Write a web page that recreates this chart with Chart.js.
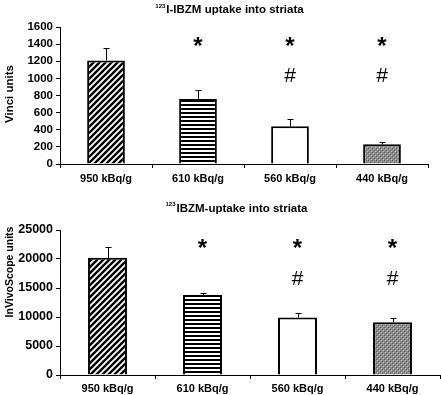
<!DOCTYPE html>
<html>
<head>
<meta charset="utf-8">
<script src="https://cdn.jsdelivr.net/npm/chart.js@4.4.1/dist/chart.umd.min.js"></script>
<style>
  body { margin: 0; background: #fff; }
  canvas { position: absolute; left: 0; }
  #topChart { top: 0; }
  #bottomChart { top: 195px; }
</style>
</head>
<body>
<canvas id="topChart" width="441" height="195"></canvas>
<canvas id="bottomChart" width="441" height="200"></canvas>
<script>
const doses = ["950 kBq/g", "610 kBq/g", "560 kBq/g", "440 kBq/g"];

// 123I-IBZM uptake, Vinci units (mean + error)
const vinciMean = [1210, 760, 440, 230];
const vinciErr = [140, 100, 80, 30];
const vinciTicks = [0, 200, 400, 600, 800, 1000, 1200, 1400, 1600];

// 123IBZM uptake, InVivoScope units (mean + error)
const scopeMean = [20200, 13800, 9900, 9100];
const scopeErr = [1800, 400, 800, 800];
const scopeTicks = [0, 5000, 10000, 15000, 20000, 25000];

// significance marks per bar
const starMark = [false, true, true, true];
const hashMark = [false, false, true, true];

const FONT = "'Liberation Sans', Arial, sans-serif";

function makePattern(kind) {
    const c = document.createElement("canvas");
    const g = c.getContext("2d");
    if (kind === "diag") {
        const s = 6;
        c.width = s; c.height = s;
        g.fillStyle = "#fff"; g.fillRect(0, 0, s, s);
        g.strokeStyle = "#000"; g.lineWidth = 2.4;
        g.beginPath();
        g.moveTo(0, s); g.lineTo(s, 0);
        g.moveTo(-1, 1); g.lineTo(1, -1);
        g.moveTo(s - 1, s + 1); g.lineTo(s + 1, s - 1);
        g.stroke();
    } else if (kind === "horiz") {
        c.width = 4; c.height = 4;
        g.fillStyle = "#fff"; g.fillRect(0, 0, 4, 4);
        g.fillStyle = "#000"; g.fillRect(0, 0, 4, 2);
    } else if (kind === "gray") {
        c.width = 4; c.height = 4;
        g.fillStyle = "#8a8a8a"; g.fillRect(0, 0, 4, 4);
        g.fillStyle = "#5e5e5e"; g.fillRect(0, 0, 1, 1); g.fillRect(2, 2, 1, 1);
        g.fillStyle = "#c4c4c4"; g.fillRect(1, 1, 1, 1); g.fillRect(3, 3, 1, 1);
    } else {
        c.width = 2; c.height = 2;
        g.fillStyle = "#fff"; g.fillRect(0, 0, 2, 2);
    }
    return g.createPattern(c, "repeat");
}

// error bars, significance marks, titles
const extras = {
    id: "extras",
    afterDatasetsDraw(chart, args, o) {
        const ctx = chart.ctx;
        const y = chart.scales.y;
        const meta = chart.getDatasetMeta(0);
        ctx.save();
        ctx.strokeStyle = "#000";
        ctx.lineWidth = 1;
        o.mean.forEach((m, i) => {
            const bx = Math.round(meta.data[i].x) + 0.5;
            const y0 = y.getPixelForValue(m);
            const y1 = Math.round(y.getPixelForValue(m + o.err[i])) + 0.5;
            ctx.beginPath();
            ctx.moveTo(bx, y0); ctx.lineTo(bx, y1);
            ctx.moveTo(bx - 3, y1); ctx.lineTo(bx + 3, y1);
            ctx.stroke();
        });
        ctx.fillStyle = "#000";
        ctx.textAlign = "center";
        ctx.textBaseline = "middle";
        starMark.forEach((s, i) => {
            if (!s) return;
            ctx.font = "bold 24px " + FONT;
            ctx.fillText("*", meta.data[i].x, y.getPixelForValue(o.starAt) + 5);
        });
        hashMark.forEach((h, i) => {
            if (!h) return;
            ctx.font = "21px " + FONT;
            ctx.fillText("#", meta.data[i].x, y.getPixelForValue(o.hashAt));
        });
        ctx.restore();
    },
    afterDraw(chart, args, o) {
        const ctx = chart.ctx;
        ctx.save();
        ctx.fillStyle = "#000";
        ctx.textBaseline = "middle";
        // title with superscript mass number
        ctx.font = "bold 11.5px " + FONT;
        const wMain = ctx.measureText(o.title).width;
        ctx.font = "bold 6px " + FONT;
        const wSup = ctx.measureText("123").width;
        let x = o.titleX - (wMain + wSup) / 2;
        ctx.textAlign = "left";
        ctx.fillText("123", x, o.titleY - 4);
        ctx.font = "bold 11.5px " + FONT;
        ctx.fillText(o.title, x + wSup + 1, o.titleY);
        // rotated y axis title
        ctx.translate(10, o.yTitleY);
        ctx.rotate(-Math.PI / 2);
        ctx.textAlign = "center";
        ctx.font = o.yTitleFont;
        ctx.fillText(o.yTitle, 0, 0);
        ctx.restore();
    }
};

function buildChart(id, mean, ticks, opts) {
    const ctx = document.getElementById(id).getContext("2d");
    return new Chart(ctx, {
        type: "bar",
        data: {
            labels: doses,
            datasets: [{
                data: mean,
                backgroundColor: [makePattern("diag"), makePattern("horiz"), makePattern("white"), makePattern("gray")],
                borderColor: "#000",
                borderWidth: 2,
                borderSkipped: "bottom",
                categoryPercentage: 1,
                barPercentage: 0.41
            }]
        },
        options: {
            responsive: false,
            animation: false,
            devicePixelRatio: 1,
            layout: { padding: { top: opts.top, right: opts.right, left: 0, bottom: 0 } },
            plugins: {
                legend: { display: false },
                tooltip: { enabled: false },
                extras: opts.extras
            },
            scales: {
                x: {
                    grid: { display: true, drawOnChartArea: false, tickLength: 4, color: "#000", offset: true },
                    border: { display: true, color: "#000", width: 1 },
                    ticks: { color: "#000", padding: opts.xPad, font: { family: FONT, weight: "bold", size: opts.xFont } },
                    afterFit: s => { s.height = opts.xHeight; }
                },
                y: {
                    min: 0,
                    max: ticks[ticks.length - 1],
                    afterBuildTicks: s => { s.ticks = ticks.map(v => ({ value: v })); },
                    grid: { display: true, drawOnChartArea: false, tickLength: 4, color: "#000" },
                    border: { display: true, color: "#000", width: 1 },
                    ticks: {
                        color: "#000", padding: 3,
                        font: { family: FONT, weight: "bold", size: opts.yFont },
                        callback: v => String(v)
                    },
                    afterFit: s => { s.width = 60; }
                }
            }
        },
        plugins: [extras]
    });
}

document.addEventListener("DOMContentLoaded", function () {
    buildChart("topChart", vinciMean, vinciTicks, {
        top: 27, right: 13, xHeight: 31, xPad: 4, xFont: 11, yFont: 11.5,
        extras: {
            mean: vinciMean, err: vinciErr, starAt: 1420, hashAt: 1020,
            title: "I-IBZM uptake into striata", titleX: 229, titleY: 10,
            yTitle: "Vinci units", yTitleY: 94, yTitleFont: "bold 11.5px " + FONT
        }
    });
    buildChart("bottomChart", scopeMean, scopeTicks, {
        top: 35, right: 1, xHeight: 20, xPad: 3, xFont: 11, yFont: 12.5,
        extras: {
            mean: scopeMean, err: scopeErr, starAt: 22500, hashAt: 16500,
            title: "IBZM-uptake into striata", titleX: 236, titleY: 13.5,
            yTitle: "InVivoScope units", yTitleY: 77, yTitleFont: "bold 10.5px " + FONT
        }
    });
});
</script>
</body>
</html>
